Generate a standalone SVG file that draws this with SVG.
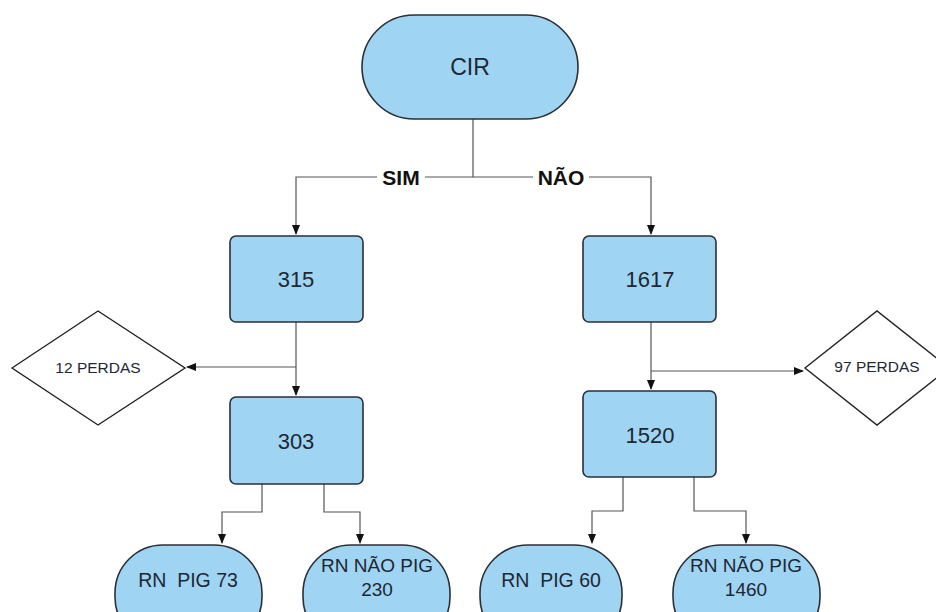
<svg xmlns="http://www.w3.org/2000/svg" width="936" height="612" viewBox="0 0 936 612">
<style>
.n{fill:#9fd4f2;stroke:#2b2f36;stroke-width:1.6}
.d{fill:#fff;stroke:#222;stroke-width:1.4}
.t{font-family:"Liberation Sans",Arial,sans-serif;fill:#1e2733;text-anchor:middle}
.c{fill:none;stroke:#555;stroke-width:1.2}
.lbl{font-family:"Liberation Sans",Arial,sans-serif;font-weight:bold;font-size:21px;fill:#111;text-anchor:middle}
</style>
<defs>
<marker id="a" markerWidth="10" markerHeight="10" refX="9" refY="5" orient="auto" markerUnits="userSpaceOnUse">
<path d="M0,1 L10,5 L0,9 Z" fill="#111"/>
</marker>
</defs>
<rect width="936" height="612" fill="#fff"/>
<g id="connectors">
<path class="c" d="M473,119 V177 H296 V234" marker-end="url(#a)"/>
<path class="c" d="M473,177 H651 V234" marker-end="url(#a)"/>
<path class="c" d="M296,322 V395" marker-end="url(#a)"/>
<path class="c" d="M296,367 H187" marker-end="url(#a)"/>
<path class="c" d="M651,322 V389" marker-end="url(#a)" stroke="#bbb"/>
<path class="c" d="M651,371 H803" marker-end="url(#a)"/>
<path class="c" d="M262,484 V512 H222 V543" marker-end="url(#a)"/>
<path class="c" d="M324,484 V512 H360 V543" marker-end="url(#a)"/>
<path class="c" d="M623,477 V511 H592 V543" marker-end="url(#a)"/>
<path class="c" d="M694,477 V511 H746 V543" marker-end="url(#a)"/>
<rect x="377" y="166" width="48" height="22" fill="#fff"/>
<text class="lbl" x="401" y="185">SIM</text>
<rect x="533" y="166" width="56" height="22" fill="#fff"/>
<text class="lbl" x="561" y="185">NÃO</text>
</g>
<g id="cir">
<rect class="n" x="362" y="15" width="216" height="104" rx="52"/>
<text class="t" x="470" y="75" font-size="23">CIR</text>
</g>
<g id="n315">
<rect class="n" x="230" y="236" width="133" height="86" rx="6"/>
<text class="t" x="296" y="287" font-size="22">315</text>
</g>
<g id="n1617">
<rect class="n" x="583" y="236" width="133" height="86" rx="6"/>
<text class="t" x="650" y="287" font-size="22">1617</text>
</g>
<g id="p12">
<polygon class="d" points="12,368 98,311 185,368 98,425"/>
<text class="t" x="98" y="373" font-size="15.5">12 PERDAS</text>
</g>
<g id="p97">
<polygon class="d" points="805,368 877,311 949,368 877,425"/>
<text class="t" x="877" y="372" font-size="15.5">97 PERDAS</text>
</g>
<g id="n303">
<rect class="n" x="230" y="397" width="133" height="87" rx="6"/>
<text class="t" x="296" y="449" font-size="22">303</text>
</g>
<g id="n1520">
<rect class="n" x="583" y="391" width="133" height="86" rx="6"/>
<text class="t" x="650" y="443" font-size="22">1520</text>
</g>
<g id="rn73">
<rect class="n" x="115" y="545" width="147" height="100" rx="48"/>
<text class="t" x="188" y="587" font-size="19.5" xml:space="preserve">RN  PIG 73</text>
</g>
<g id="rn230">
<rect class="n" x="303" y="545" width="147" height="100" rx="48"/>
<text class="t" x="377" y="572" font-size="19">RN NÃO PIG</text>
<text class="t" x="377" y="596" font-size="19">230</text>
</g>
<g id="rn60">
<rect class="n" x="480" y="545" width="142" height="100" rx="48"/>
<text class="t" x="551" y="587" font-size="19.5" xml:space="preserve">RN  PIG 60</text>
</g>
<g id="rn1460">
<rect class="n" x="673" y="545" width="147" height="100" rx="48"/>
<text class="t" x="746" y="572" font-size="19">RN NÃO PIG</text>
<text class="t" x="746" y="596" font-size="19">1460</text>
</g>
</svg>
